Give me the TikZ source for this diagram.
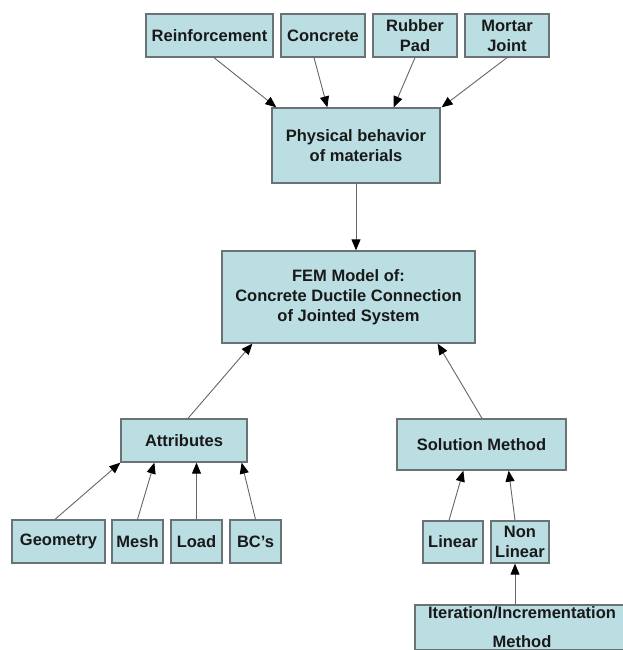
\documentclass[tikz,border=0pt]{standalone}
\usepackage{fontspec}
\setmainfont{Liberation Sans}
\usetikzlibrary{arrows.meta,positioning}
\definecolor{boxfill}{RGB}{186,222,226}
\definecolor{boxline}{RGB}{105,115,118}

\begin{document}
\begin{tikzpicture}[x=1pt, y=-1pt,
    box/.style={draw=boxline, line width=1.3pt, fill=boxfill, inner sep=0pt,
                align=center, text=black!90,
                font=\fontsize{16.5}{20}\selectfont\bfseries},
    arr/.style={-{Triangle[length=11pt,width=9pt,fill=black,color=black]},
                line width=0.9pt, draw=black!60},
]
\path[use as bounding box, fill=white] (0,0) rectangle (622,650);

% Materials
\node[box, minimum width=127pt, minimum height=43pt] (reinf) at (209.5,35.5) {Reinforcement};
\node[box, minimum width=84pt, minimum height=43pt] (concr) at (323,35.5) {Concrete};
\node[box, minimum width=84pt, minimum height=43pt] (rubber) at (415,35.5) {Rubber\\Pad};
\node[box, minimum width=84pt, minimum height=43pt] (mortar) at (507,35.5) {Mortar\\Joint};
\node[box, minimum width=168pt, minimum height=75pt] (phys) at (356,145.5) {Physical behavior\\of materials};

\draw[arr] ([xshift=4.5pt]reinf.south) -- ([xshift=5pt]phys.north west);
\draw[arr] ([xshift=-9pt]concr.south) -- ([xshift=56pt]phys.north west);
\draw[arr] (rubber.south) -- ([xshift=-47pt]phys.north east);
\draw[arr] (mortar.south) -- ([xshift=1pt]phys.north east);

% FEM model
\node[box, minimum width=253pt, minimum height=92pt] (fem) at (348.5,297)
    {FEM Model of:\\Concrete Ductile Connection\\of Jointed System};
\draw[arr] (phys.south) -- (phys.south |- fem.north);

% Attributes
\node[box, minimum width=126pt, minimum height=43pt] (attr) at (184,440.5) {Attributes};
\draw[arr] ([xshift=4pt]attr.north) -- ([xshift=31pt]fem.south west);

\node[box, minimum width=93pt, minimum height=43pt] (geom) at (58.5,541.5) {Geometry};
\node[box, minimum width=51pt, minimum height=43pt] (mesh) at (137.5,541.5) {Mesh};
\node[box, minimum width=51pt, minimum height=43pt] (load) at (196.5,541.5) {Load};
\node[box, minimum width=51pt, minimum height=43pt] (bcs) at (255.5,541.5) {BC’s};

\draw[arr] ([xshift=-3.5pt]geom.north) -- (attr.south west);
\draw[arr] (mesh.north) -- ([xshift=34pt]attr.south west);
\draw[arr] (load.north) -- (load.north |- attr.south);
\draw[arr] (bcs.north) -- ([xshift=-6pt]attr.south east);

% Solution method
\node[box, minimum width=169pt, minimum height=51pt] (sol) at (481.5,444.5) {Solution Method};
\draw[arr] ([xshift=0.5pt]sol.north) -- ([xshift=-38pt]fem.south east);

\node[box, minimum width=60pt, minimum height=42pt] (lin) at (453,542) {Linear};
\node[box, minimum width=58pt, minimum height=42pt] (nonlin) at (520,542) {Non\\Linear};
\draw[arr] ([xshift=-4pt]lin.north) -- ([xshift=67pt]sol.south west);
\draw[arr] ([xshift=-5pt]nonlin.north) -- ([xshift=-58pt]sol.south east);

\node[box, minimum width=214pt, minimum height=45pt,
      font=\fontsize{16.5}{29}\selectfont\bfseries] (iter) at (522,627.5)
    {Iteration/Incrementation\\Method};
\draw[arr] ([xshift=-5pt]nonlin.south |- iter.north) -- ([xshift=-5pt]nonlin.south);
\end{tikzpicture}
\end{document}
